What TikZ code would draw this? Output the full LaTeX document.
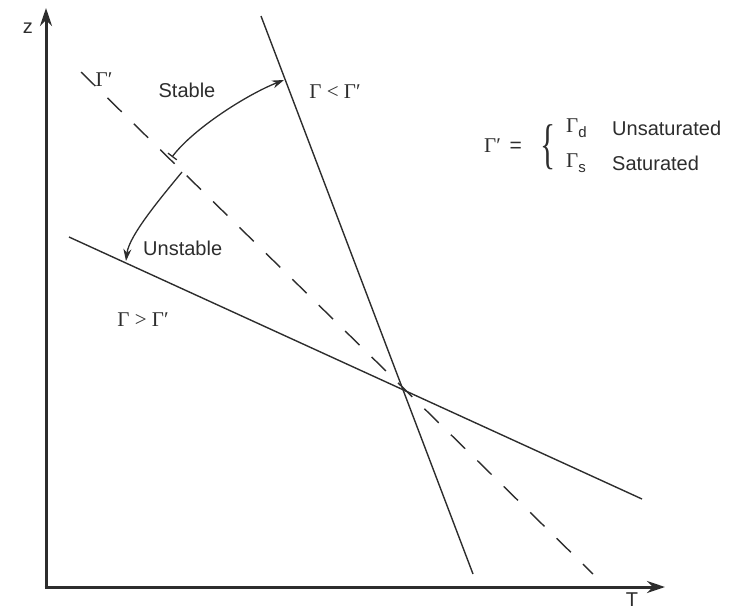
\documentclass[tikz,border=0pt]{standalone}
\usepackage{fontspec}
\setmainfont{Liberation Sans}
\newfontfamily\serif{Liberation Serif}
\usetikzlibrary{arrows.meta}
\definecolor{inkc}{RGB}{45,45,45}
\begin{document}
\begin{tikzpicture}[x=1pt,y=-1pt,
  txt/.style={inner sep=0pt, text=inkc, font=\fontsize{20}{24}\selectfont},
  stxt/.style={inner sep=0pt, text=inkc, font=\fontsize{21}{25}\selectfont\serif},
  axisline/.style={draw=inkc, line width=3pt, -{Stealth[length=18pt,width=12pt]}},
  plainline/.style={draw=inkc, line width=1.4pt},
  dashline/.style={draw=inkc, line width=1.4pt, dash pattern=on 20pt off 17pt},
  curvearrow/.style={draw=inkc, line width=1.3pt, -{Stealth[length=12pt,width=8pt]}}]
\useasboundingbox (0,0) rectangle (744,611);
% axes
\coordinate (O) at (46,587);
\coordinate (ztip) at (46,8);
\coordinate (Ttip) at (665,587);
\draw[axisline] (O) -- (ztip);
\draw[axisline] ([xshift=-1.5pt]O) -- (Ttip);
\node[txt] (zlab) at (28,28) {z};
\node[txt] (Tlab) at (632,600) {T};
% lines
\coordinate (S1) at (261,16);
\coordinate (S2) at (473,574);
\coordinate (H1) at (69,237);
\coordinate (H2) at (642,499);
\coordinate (D1) at (81,72);
\coordinate (D2) at (593,574);
\draw[plainline] (S1) -- (S2);
\draw[plainline] (H1) -- (H2);
\draw[dashline] (D1) -- (D2);
% arrows
\coordinate (A1) at (172,157);
\coordinate (A2) at (284,80);
\coordinate (B1) at (182,172);
\coordinate (B2) at (126,261);
\draw[curvearrow, {Bar[width=11pt,line width=1.3pt]}-{Stealth[length=12pt,width=8pt]}] (A1) .. controls (194,128) and (248,94) .. (A2);
\draw[curvearrow] (B1) .. controls (164,194) and (129,235) .. (B2);
% labels
\node[stxt] (gp) at (104,80) {Γ′};
\node[txt] (stable) at (187,90) {Stable};
\node[txt, anchor=west] (unstable) at (143,248) {Unstable};
\node[stxt] (lt) at (335,92) {Γ < Γ′};
\node[stxt] (gt) at (143,320) {Γ > Γ′};
% legend
\node[stxt] (gpeq) at (503,146) {Γ′ \,{\fontspec{Liberation Sans}=}};
\node[stxt] (brace) at (548,147) {\scalebox{1.5}[2.6]{\{}};
\node[stxt, anchor=west] (gd) at (566,128) {Γ\raisebox{-5pt}{\fontspec{Liberation Sans}\fontsize{15}{18}\selectfont d}};
\node[stxt, anchor=west] (gs) at (566,163) {Γ\raisebox{-5pt}{\fontspec{Liberation Sans}\fontsize{15}{18}\selectfont s}};
\node[txt, anchor=west] (unsat) at (612,128) {Unsaturated};
\node[txt, anchor=west] (sat) at (612,163) {Saturated};
\end{tikzpicture}
\end{document}
